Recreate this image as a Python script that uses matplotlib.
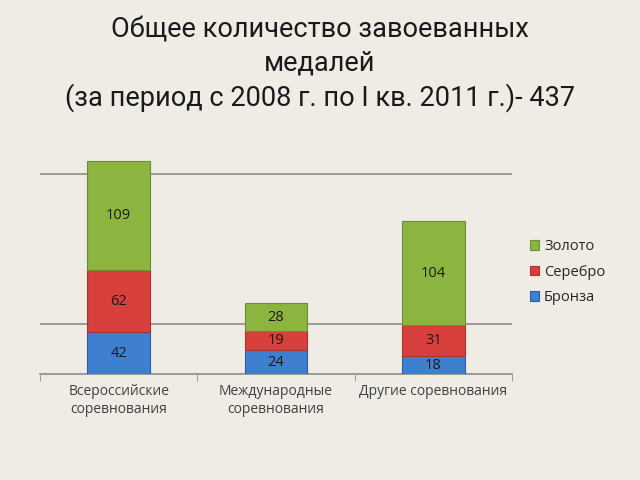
import matplotlib
matplotlib.use("Agg")
from matplotlib import pyplot as plt
import numpy as np

categories = ["Всероссийские\nсоревнования", "Международные\nсоревнования", "Другие соревнования"]
bronze = [42, 24, 18]
silver = [62, 19, 31]
gold = [109, 28, 104]
series_names = ["Бронза", "Серебро", "Золото"]
grid_values = [50, 200]

title = "Общее количество завоеванных\nмедалей\n(за период с 2008 г. по I кв. 2011 г.)- 437"

colors = ["#3f7fd0", "#d7403d", "#8cb53f"]
edges = ["#2f5f9f", "#a83432", "#6d8d31"]
bg = "#eeece5"

plt.rcParams['font.family'] = ['Open Sans', 'DejaVu Sans']

fig = plt.figure(figsize=(6.4, 4.8), dpi=100, facecolor=bg)
ax = fig.add_axes([0.0625, 0.2208, 0.7375, 0.5208])
ax.set_facecolor(bg)

x = np.arange(len(categories))
bottom = np.zeros(len(categories))
bars = []
for vals, col, ec in zip([bronze, silver, gold], colors, edges):
    b = ax.bar(x, vals, width=0.4, bottom=bottom, color=col, edgecolor=ec, linewidth=0.8, zorder=3)
    ax.bar_label(b, labels=[str(v) for v in vals], label_type='center', fontsize=10.5, color='#1a1a1a')
    bars.append(b)
    bottom += np.array(vals)

ax.set_xlim(-0.5, 2.5)
ax.set_ylim(0, 250)
ax.set_yticks(grid_values)
ax.tick_params(axis='y', length=0, labelleft=False)
ax.yaxis.grid(True, color='#8c8c8c', linewidth=1.2, zorder=0)

ax.set_xticks(x)
ax.set_xticklabels(categories, fontsize=10, color='#404040', linespacing=1.3)
ax.set_xticks([-0.5, 0.5, 1.5, 2.5], minor=True)
ax.tick_params(axis='x', which='major', length=0, pad=7)
ax.tick_params(axis='x', which='minor', length=5, color='#8c8c8c', direction='out')

for s in ['top', 'right', 'left']:
    ax.spines[s].set_visible(False)
ax.spines['bottom'].set_color('#8c8c8c')
ax.spines['bottom'].set_linewidth(1.2)

handles = [bars[2], bars[1], bars[0]]
labels = [series_names[2], series_names[1], series_names[0]]
fig.legend(handles, labels, loc='center left', bbox_to_anchor=(0.808, 0.433),
           frameon=False, fontsize=10.5, handlelength=0.6, handleheight=0.6,
           handletextpad=0.35, labelspacing=0.72, labelcolor='#262626')

fig.text(0.5, 0.866, title, ha='center', va='center', fontsize=19.5, color='#1a1a1a',
         family=['Roboto', 'DejaVu Sans'], linespacing=1.28)

fig.savefig("out.png", dpi=100, facecolor=bg)
